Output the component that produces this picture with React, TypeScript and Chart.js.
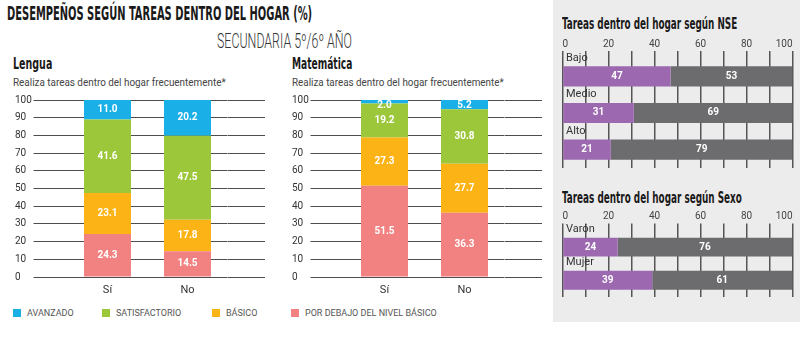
import React, { useEffect, useLayoutEffect, useRef } from 'react';
import { Chart, registerables } from 'chart.js';

Chart.register(...registerables);

// ---------- data ----------
const levelLabels = ['POR DEBAJO DEL NIVEL BÁSICO', 'BÁSICO', 'SATISFACTORIO', 'AVANZADO'];
const levelColors = ['#f28282', '#fcb316', '#9dc73b', '#1aafe6'];
const answerCategories = ['Sí', 'No'];

const lenguaPorDebajo = [24.3, 14.5];
const lenguaBasico = [23.1, 17.8];
const lenguaSatisfactorio = [41.6, 47.5];
const lenguaAvanzado = [11.0, 20.2];

const matePorDebajo = [51.5, 36.3];
const mateBasico = [27.3, 27.7];
const mateSatisfactorio = [19.2, 30.8];
const mateAvanzado = [2.0, 5.2];

const percentTicks = [0, 10, 20, 30, 40, 50, 60, 70, 80, 90, 100];
const panelTickLabels = ['0', '', '20', '', '40', '', '60', '', '80', '', '100'];

const tareaSeries = ['Sí', 'No'];
const tareaColors = ['#9c69b0', '#6c6c6e'];
const nseCategories = ['Bajo', 'Medio', 'Alto'];
const nseSi = [47, 31, 21];
const nseNo = [53, 69, 79];
const sexoCategories = ['Varón', 'Mujer'];
const sexoSi = [24, 39];
const sexoNo = [76, 61];

const legendItems = [
  { label: 'AVANZADO', color: levelColors[3], sq: 13 },
  { label: 'SATISFACTORIO', color: levelColors[2], sq: 102 },
  { label: 'BÁSICO', color: levelColors[1], sq: 212 },
  { label: 'POR DEBAJO DEL NIVEL BÁSICO', color: levelColors[0], sq: 291 },
];

const CONDENSED = "'DejaVu Sans Condensed', 'DejaVu Sans', sans-serif";
const SANS = "Roboto, 'Open Sans', sans-serif";

Chart.defaults.font.family = SANS;

// ---------- plugins ----------
function valueLabels(decimals: number, horizontal: boolean) {
  return {
    id: 'valueLabels',
    afterDatasetsDraw(chart: any) {
      const ctx = chart.ctx;
      ctx.save();
      ctx.fillStyle = '#ffffff';
      ctx.font = `bold 10px ${SANS}`;
      ctx.textAlign = 'center';
      ctx.textBaseline = 'middle';
      chart.data.datasets.forEach((ds: any, i: number) => {
        const meta = chart.getDatasetMeta(i);
        meta.data.forEach((el: any, j: number) => {
          const v = ds.data[j] as number;
          const c = el.getCenterPoint();
          let y = c.y;
          if (!horizontal) {
            const top = Math.min(el.y, el.base);
            y = Math.max(y, top + 5.5);
          }
          ctx.fillText(v.toFixed(decimals), c.x, y);
        });
      });
      ctx.restore();
    },
  };
}

function setPercentTicks(s: any) {
  s.ticks = percentTicks.map((v) => ({ value: v }));
}

// ---------- configs ----------
function columnConfig(pd: number[], ba: number[], sa: number[], av: number[]): any {
  const series = [pd, ba, sa, av];
  return {
    type: 'bar',
    data: {
      labels: answerCategories,
      datasets: series.map((d, i) => ({
        label: levelLabels[i],
        data: d,
        backgroundColor: levelColors[i],
        borderWidth: 0,
      })),
    },
    options: {
      animation: false,
      responsive: false,
      maintainAspectRatio: false,
      layout: { padding: { left: 1, right: 1, top: 12, bottom: 1 } },
      plugins: { legend: { display: false }, tooltip: { enabled: false } },
      datasets: { bar: { barPercentage: 0.5875, categoryPercentage: 1 } },
      scales: {
        x: {
          stacked: true,
          grid: { display: false, drawTicks: false },
          border: { display: false },
          ticks: { padding: 6.4, color: '#333', font: { size: 11 } },
        },
        y: {
          stacked: true,
          min: 0,
          max: 100,
          afterBuildTicks: setPercentTicks,
          afterFit: (s: any) => {
            s.width = 52.5;
          },
          grid: { color: '#4d4d4d', lineWidth: 1, tickLength: 34 },
          border: { display: false },
          ticks: { crossAlign: 'far', color: '#333', font: { size: 10 }, padding: 0 },
        },
        y2: {
          position: 'right',
          min: 0,
          max: 100,
          afterBuildTicks: setPercentTicks,
          afterFit: (s: any) => {
            s.width = 37.5;
          },
          grid: { color: '#4d4d4d', lineWidth: 1, tickLength: 37.5, drawOnChartArea: false },
          border: { display: false },
          ticks: { display: false },
        },
      },
    },
    plugins: [valueLabels(1, false)],
  };
}

function panelConfig(cats: string[], si: number[], no: number[], padTop: number, barPct: number, labelOffset: number): any {
  return {
    type: 'bar',
    data: {
      labels: cats,
      datasets: [
        { label: tareaSeries[0], data: si, backgroundColor: tareaColors[0], borderWidth: 0 },
        { label: tareaSeries[1], data: no, backgroundColor: tareaColors[1], borderWidth: 0 },
      ],
    },
    options: {
      indexAxis: 'y',
      animation: false,
      responsive: false,
      maintainAspectRatio: false,
      layout: { padding: { left: 7.5, right: 7.5, top: padTop, bottom: 2.5 } },
      plugins: { legend: { display: false }, tooltip: { enabled: false } },
      datasets: { bar: { barPercentage: barPct, categoryPercentage: 1 } },
      scales: {
        x: {
          position: 'top',
          stacked: true,
          min: 0,
          max: 100,
          afterBuildTicks: setPercentTicks,
          grid: { color: '#555555', lineWidth: 1.5, tickLength: 7 },
          border: { display: false },
          ticks: {
            align: 'inner',
            padding: 1,
            autoSkip: false,
            maxRotation: 0,
            color: '#444',
            font: { size: 10 },
            callback: (_v: any, i: number) => panelTickLabels[i],
          },
        },
        y: {
          stacked: true,
          afterFit: (s: any) => {
            s.width = 0;
          },
          grid: { display: false, drawTicks: false },
          border: { display: false },
          ticks: { mirror: true, padding: 3.5, labelOffset, color: '#333', font: { size: 11 } },
        },
      },
    },
    plugins: [valueLabels(0, true)],
  };
}

// ---------- components ----------
function ChartCanvas({ config, left, top, width, height }: any) {
  const ref = useRef<HTMLCanvasElement>(null);
  useEffect(() => {
    const chart = new Chart(ref.current as HTMLCanvasElement, config);
    return () => chart.destroy();
  }, []);
  return (
    <canvas
      ref={ref}
      width={width}
      height={height}
      style={{ position: 'absolute', left, top, width, height }}
    />
  );
}

function FitText({ text, x, y, width, size, family, weight = 'normal', color = '#1a1a1a', stretch = 'normal' }: any) {
  const ref = useRef<HTMLSpanElement>(null);
  useLayoutEffect(() => {
    const el = ref.current;
    if (!el) return;
    el.style.transform = 'none';
    const w = el.offsetWidth;
    if (w > 0) el.style.transform = `scaleX(${width / w})`;
  }, [text, width]);
  return (
    <span
      ref={ref}
      style={{
        position: 'absolute',
        left: x,
        top: y,
        fontSize: size,
        fontFamily: family,
        fontWeight: weight,
        fontStretch: stretch,
        color,
        lineHeight: 1,
        whiteSpace: 'nowrap',
        display: 'inline-block',
        transformOrigin: '0 0',
      }}
    >
      {text}
    </span>
  );
}

export default function App() {
  return (
    <div
      style={{
        position: 'fixed',
        left: 0,
        top: 0,
        width: 800,
        height: 354,
        background: '#ffffff',
        overflow: 'hidden',
      }}
    >
      <div style={{ position: 'absolute', left: 553, top: 0, width: 247, height: 322, background: '#ececec' }} />

      <FitText text="DESEMPEÑOS SEGÚN TAREAS DENTRO DEL HOGAR (%)" x={7} y={4} width={305} size={19} family={CONDENSED} weight="bold" stretch="condensed" />
      <FitText text="SECUNDARIA 5º/6º AÑO" x={217} y={31} width={135} size={20} family={SANS} weight={300} color="#333" />

      <FitText text="Lengua" x={13} y={56.4} width={39} size={16} family={CONDENSED} weight="bold" stretch="condensed" />
      <FitText text="Realiza tareas dentro del hogar frecuentemente*" x={13} y={77.6} width={213} size={10.5} family={SANS} color="#444" />
      <FitText text="Matemática" x={292} y={56.4} width={60} size={16} family={CONDENSED} weight="bold" stretch="condensed" />
      <FitText text="Realiza tareas dentro del hogar frecuentemente*" x={292} y={77.6} width={212} size={10.5} family={SANS} color="#444" />

      <ChartCanvas config={columnConfig(lenguaPorDebajo, lenguaBasico, lenguaSatisfactorio, lenguaAvanzado)} left={14} top={88} width={252} height={216} />
      <ChartCanvas config={columnConfig(matePorDebajo, mateBasico, mateSatisfactorio, mateAvanzado)} left={291} top={88} width={252} height={216} />

      {legendItems.map((it) => (
        <React.Fragment key={it.label}>
          <div style={{ position: 'absolute', left: it.sq, top: 309, width: 8, height: 8, background: it.color }} />
          <span
            style={{
              position: 'absolute',
              left: it.sq + 14,
              top: 308,
              fontSize: 9,
              lineHeight: '10px',
              fontFamily: SANS,
              color: '#555',
              whiteSpace: 'nowrap',
            }}
          >
            {it.label}
          </span>
        </React.Fragment>
      ))}

      <FitText text="Tareas dentro del hogar según NSE" x={562} y={16} width={175} size={16.5} family={CONDENSED} weight="bold" stretch="condensed" />
      <ChartCanvas config={panelConfig(nseCategories, nseSi, nseNo, 1, 0.55, -18.5)} left={555} top={36} width={245} height={142} />

      <FitText text="Tareas dentro del hogar según Sexo" x={562} y={190} width={180} size={16.5} family={CONDENSED} weight="bold" stretch="condensed" />
      <ChartCanvas config={panelConfig(sexoCategories, sexoSi, sexoNo, 1.5, 0.57, -18)} left={555} top={208} width={245} height={99} />
    </div>
  );
}
